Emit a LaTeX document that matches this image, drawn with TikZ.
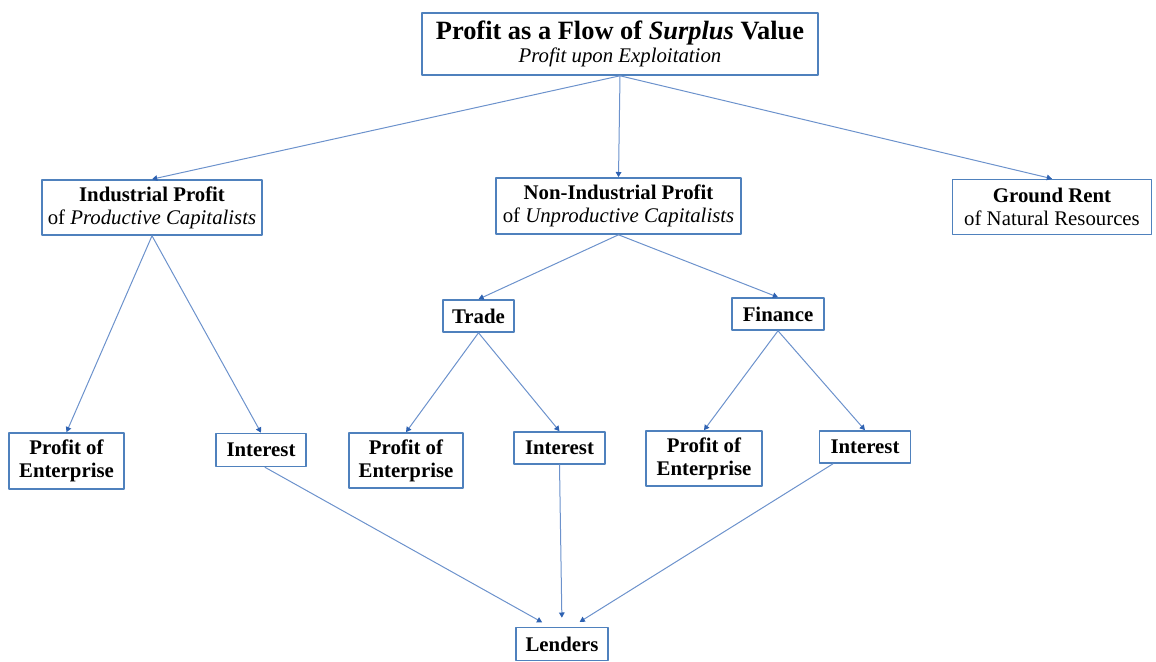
\documentclass[tikz,border=0pt]{standalone}
\usepackage{fontspec}
\setmainfont{Liberation Serif}
\usetikzlibrary{arrows.meta}
\definecolor{boxblue}{RGB}{79,129,189}
\definecolor{lineblue}{RGB}{108,146,204}
\definecolor{tipblue}{RGB}{46,98,178}

\begin{document}
\begin{tikzpicture}[line cap=round,line join=round,>={Triangle[length=2.6pt,width=2.8pt,fill=tipblue,color=tipblue]},x=0.5pt,y=-0.5pt,
	box/.style={draw=boxblue,line width=0.8pt,inner sep=0pt,align=center,font=\fontsize{10.4}{11.5}\selectfont},
	flow/.style={->,draw=lineblue,line width=0.5pt}]
		\useasboundingbox (0,0) rectangle (1156,662);
		% top of the tree
		\node[box,minimum width=198pt,minimum height=31pt] (top) at (620,44) {{\fontsize{13.2}{12.5}\selectfont\bfseries Profit as a Flow of \textit{Surplus} Value}\\\itshape Profit upon Exploitation};
		% second level
		\node[box,minimum width=110pt,minimum height=27.5pt] (ind) at (152,207.5) {\bfseries Industrial Profit\\of \textit{Productive Capitalists}};
		\node[box,minimum width=122.5pt,minimum height=28pt] (nonind) at (618.5,206) {\bfseries Non-Industrial Profit\\of \textit{Unproductive Capitalists}};
		\node[box,minimum width=99.5pt,minimum height=27.5pt] (ground) at (1052,207) {\bfseries Ground Rent\\of Natural Resources};
		\node[box,minimum width=35.5pt,minimum height=16pt] (trade) at (478.5,316) {\bfseries Trade};
		\node[box,minimum width=46pt,minimum height=16pt] (fin) at (778,314) {\bfseries Finance};
		% lower level
		\node[box,minimum width=57.5pt,minimum height=28pt] (poeA) at (66.5,461) {\bfseries Profit of\\\bfseries Enterprise};
		\node[box,minimum width=45pt,minimum height=16.5pt] (intA) at (261,450) {\bfseries Interest};
		\node[box,minimum width=57pt,minimum height=27.5pt] (poeB) at (406,460.5) {\bfseries Profit of\\\bfseries Enterprise};
		\node[box,minimum width=45.5pt,minimum height=16pt] (intB) at (559.5,448) {\bfseries Interest};
		\node[box,minimum width=58pt,minimum height=27.5pt] (poeC) at (704,458.5) {\bfseries Profit of\\\bfseries Enterprise};
		\node[box,minimum width=45.5pt,minimum height=16pt] (intC) at (865,447) {\bfseries Interest};
		\node[box,minimum width=46pt,minimum height=16.5pt] (lend) at (562,644) {\bfseries Lenders};
		% connectors
		\draw[flow] (top.south) -- (ind.north);
		\draw[flow] (top.south) -- (nonind.north);
		\draw[flow] (top.south) -- (ground.north);
		\draw[flow] (ind.south) -- (poeA.north);
		\draw[flow] (ind.south) -- (intA.north);
		\draw[flow] (nonind.south) -- (trade.north);
		\draw[flow] (nonind.south) -- (fin.north);
		\draw[flow] (trade.south) -- (poeB.north);
		\draw[flow] (trade.south) -- (intB.north);
		\draw[flow] (fin.south) -- (poeC.north);
		\draw[flow] (fin.south) -- (intC.north);
		\draw[flow,shorten >=4.5pt] ([xshift=2pt]intA.south) -- ([xshift=-6pt]lend.north);
		\draw[flow,shorten >=4.5pt] (intB.south) -- (lend.north);
		\draw[flow,shorten >=4.5pt] ([xshift=-16pt]intC.south) -- ([xshift=5pt]lend.north);
\end{tikzpicture}
\end{document}
